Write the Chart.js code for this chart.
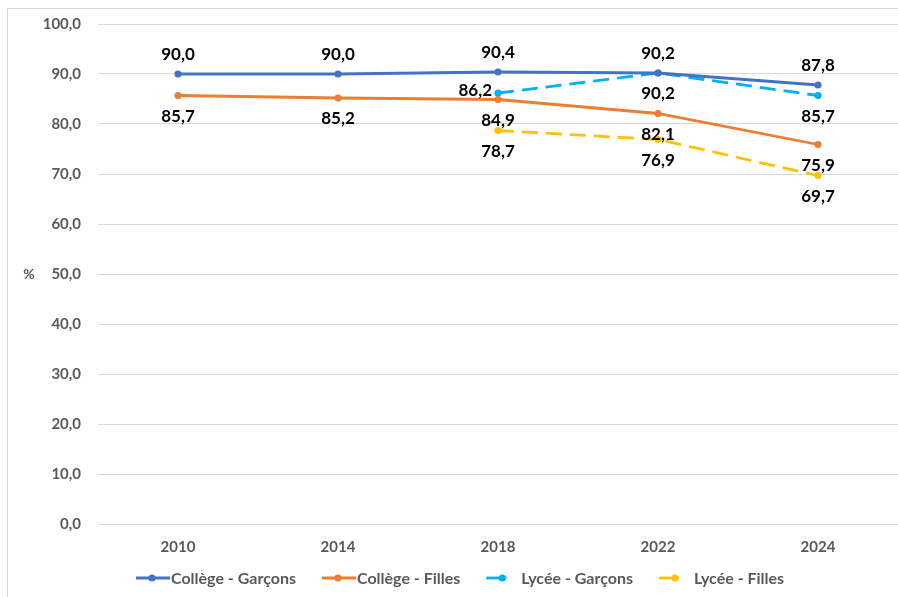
<!DOCTYPE html>
<html>
<head>
<meta charset="utf-8">
<script src="https://cdn.jsdelivr.net/npm/chart.js@4.4.1/dist/chart.umd.min.js"></script>
<style>
html,body{margin:0;padding:0;background:#fff;}
#wrap{width:898px;height:597px;position:relative;}
</style>
</head>
<body>
<div id="wrap"><canvas id="c" width="898" height="597"></canvas></div>
<script>
const categories = ['2010', '2014', '2018', '2022', '2024'];
const collegeGarcons = [90.0, 90.0, 90.4, 90.2, 87.8];
const collegeFilles = [85.7, 85.2, 84.9, 82.1, 75.9];
const lyceeGarcons = [null, null, 86.2, 90.2, 85.7];
const lyceeFilles = [null, null, 78.7, 76.9, 69.7];
const seriesNames = ['Collège - Garçons', 'Collège - Filles', 'Lycée - Garçons', 'Lycée - Filles'];
const yTicks = [0, 10, 20, 30, 40, 50, 60, 70, 80, 90, 100];
const yUnit = '%';

const FONT = 'Lato, "Open Sans", sans-serif';
const fmt = v => v.toFixed(1).replace('.', ',');

function ds(label, data, color, dashed, labelPos) {
  return {
    label, data,
    borderColor: color, backgroundColor: color,
    borderWidth: 2.8,
    borderDash: dashed ? [16, 8] : [],
    pointRadius: 3.6, pointHoverRadius: 3.6,
    pointBackgroundColor: color, pointBorderColor: color, pointBorderWidth: 0,
    tension: 0, spanGaps: false,
    labelPos
  };
}

const datasets = [
  ds(seriesNames[0], collegeGarcons, '#4472C4', false, ['above','above','above','above','above']),
  ds(seriesNames[1], collegeFilles, '#ED7D31', false, ['below','below','below','below','below']),
  ds(seriesNames[2], lyceeGarcons, '#00B0F0', true, ['below','below','left','below','below']),
  ds(seriesNames[3], lyceeFilles, '#FFC000', true, ['below','below','below','below','below'])
];

const framePlugin = {
  id: 'frame',
  beforeDraw(chart) {
    const ctx = chart.ctx;
    ctx.save();
    ctx.fillStyle = '#fff';
    ctx.fillRect(0, 0, chart.width, chart.height);
    ctx.strokeStyle = '#D9D9D9';
    ctx.lineWidth = 1;
    ctx.strokeRect(7.5, 8.5, chart.width + 10, chart.height + 10);
    ctx.restore();
  },
  afterDraw(chart) {
    const ctx = chart.ctx;
    const y = chart.scales.y;
    ctx.save();
    // unit label
    ctx.font = 'bold 14px ' + FONT;
    ctx.fillStyle = '#595959';
    ctx.textAlign = 'center';
    ctx.textBaseline = 'middle';
    ctx.fillText(yUnit, 29, (y.top + y.bottom) / 2);
    // legend
    const ly = 578;
    let x = 136;
    ctx.font = 'bold 16px ' + FONT;
    ctx.textAlign = 'left';
    chart.data.datasets.forEach(d => {
      const dashed = d.borderDash.length > 0;
      ctx.strokeStyle = d.borderColor;
      ctx.fillStyle = d.borderColor;
      ctx.lineWidth = 2.8;
      ctx.beginPath();
      ctx.moveTo(x, ly);
      ctx.lineTo(x + (dashed ? 20 : 34), ly);
      ctx.stroke();
      ctx.beginPath();
      ctx.arc(x + 16, ly, 3.6, 0, Math.PI * 2);
      ctx.fill();
      ctx.fillStyle = '#595959';
      ctx.fillText(d.label, x + 35, ly + 1);
      x += 35 + ctx.measureText(d.label).width + 26;
    });
    ctx.restore();
  }
};

const labelPlugin = {
  id: 'dlabels',
  afterDatasetsDraw(chart) {
    const ctx = chart.ctx;
    ctx.save();
    ctx.font = 'bold 17px ' + FONT;
    ctx.fillStyle = '#000';
    ctx.textBaseline = 'middle';
    chart.data.datasets.forEach((d, i) => {
      const meta = chart.getDatasetMeta(i);
      meta.data.forEach((pt, j) => {
        const v = d.data[j];
        if (v === null || v === undefined) return;
        const pos = d.labelPos[j];
        let tx = pt.x, ty = pt.y;
        if (pos === 'above') { ctx.textAlign = 'center'; ty -= 19; }
        else if (pos === 'below') { ctx.textAlign = 'center'; ty += 21; }
        else if (pos === 'left') { ctx.textAlign = 'right'; tx -= 6; ty -= 2; }
        ctx.fillText(fmt(v), tx, ty);
      });
    });
    ctx.restore();
  }
};

new Chart(document.getElementById('c'), {
  type: 'line',
  data: { labels: categories, datasets },
  options: {
    responsive: false,
    animation: false,
    devicePixelRatio: 1,
    layout: { autoPadding: false, padding: { top: 24, right: 0, bottom: 0, left: 0 } },
    plugins: { legend: { display: false }, tooltip: { enabled: false } },
    scales: {
      x: {
        offset: true,
        grid: { display: false, drawTicks: false },
        border: { display: false },
        ticks: { color: '#595959', font: { family: FONT, size: 15, weight: 'bold' }, padding: 14, maxRotation: 0 },
        afterFit(s) { s.height = 73; s.paddingLeft = 0; s.paddingRight = 0; }
      },
      y: {
        min: 0, max: 100,
        afterBuildTicks(s) { s.ticks = yTicks.map(v => ({ value: v })); },
        grid: { color: '#D9D9D9', lineWidth: 1, drawTicks: false },
        border: { display: false },
        ticks: { color: '#595959', font: { family: FONT, size: 15, weight: 'bold' }, padding: 17,
                 callback: v => fmt(v) },
        afterFit(s) { s.width = 98; s.paddingTop = 0; s.paddingBottom = 0; }
      }
    }
  },
  plugins: [framePlugin, labelPlugin]
});
</script>
</body>
</html>
